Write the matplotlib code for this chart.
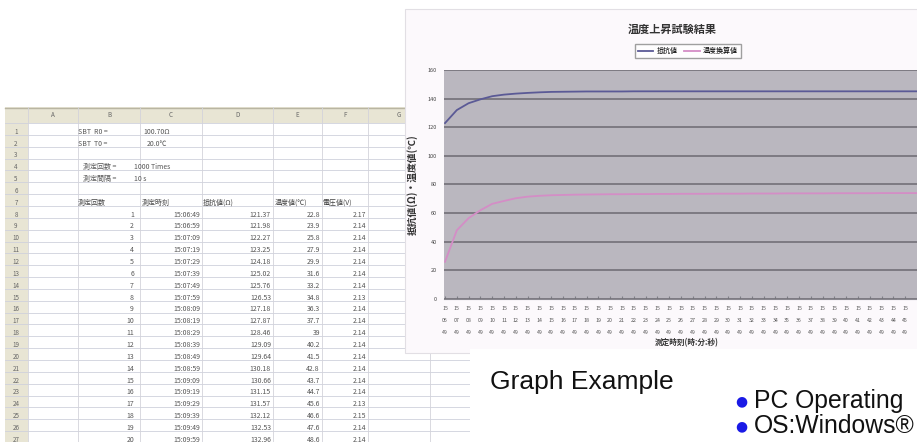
import matplotlib.pyplot as plt
from matplotlib.patches import Rectangle

plt.rcParams['font.family'] = ['Noto Sans CJK JP', 'DejaVu Sans']

# spreadsheet contents
col_letters = ["A", "B", "C", "D", "E", "F", "G"]
col_edges = [28, 78, 140, 202, 273, 322, 368, 430]
meas_no = [str(i) for i in range(1, 21)]
meas_time = ["15:06:49", "15:06:59", "15:07:09", "15:07:19", "15:07:29",
             "15:07:39", "15:07:49", "15:07:59", "15:08:09", "15:08:19",
             "15:08:29", "15:08:39", "15:08:49", "15:08:59", "15:09:09",
             "15:09:19", "15:09:29", "15:09:39", "15:09:49", "15:09:59"]
resist = ["121.37", "121.98", "122.27", "123.25", "124.18", "125.02", "125.76",
          "126.53", "127.18", "127.87", "128.46", "129.09", "129.64", "130.18",
          "130.66", "131.15", "131.57", "132.12", "132.53", "132.96"]
temp = ["22.8", "23.9", "25.8", "27.9", "29.9", "31.6", "33.2", "34.8", "36.3",
        "37.7", "39", "40.2", "41.5", "42.8", "43.7", "44.7", "45.6", "46.6",
        "47.6", "48.6"]
volt = ["2.17", "2.14", "2.14", "2.14", "2.14", "2.14", "2.14", "2.13", "2.14",
        "2.14", "2.14", "2.14", "2.14", "2.14", "2.14", "2.14", "2.13", "2.15",
        "2.14", "2.14"]
headers = ["測定回数", "測定時刻", "抵抗値(Ω)", "温度値(℃)", "電圧値(V)"]

# chart series (one value per x category)
series_names = ["抵抗値", "温度換算値"]
resist_curve = [122.9, 132.0, 136.8, 139.5, 141.7, 142.8, 143.5, 144.0, 144.4,
                144.7, 144.8, 144.9, 145.0, 145.0, 145.0, 145.0, 145.1, 145.1,
                145.1, 145.1, 145.1, 145.1, 145.1, 145.1, 145.1, 145.1, 145.1,
                145.1, 145.1, 145.1, 145.1, 145.1, 145.1, 145.1, 145.1, 145.1,
                145.1, 145.1, 145.1, 145.1, 145.1, 145.1]
temp_curve = [26.0, 48.0, 56.5, 62.0, 66.5, 68.5, 70.4, 71.5, 72.1, 72.5, 72.7,
              72.9, 73.0, 73.1, 73.2, 73.2, 73.3, 73.3, 73.4, 73.4, 73.5, 73.5,
              73.5, 73.6, 73.6, 73.6, 73.7, 73.7, 73.7, 73.8, 73.8, 73.8, 73.8,
              73.9, 73.9, 73.9, 73.9, 74.0, 74.0, 74.0, 74.0, 74.0]
n_labels = 40
x_labels = ["15\n%02d\n49" % (6 + i) for i in range(n_labels)]

fig = plt.figure(figsize=(9.17, 4.42), dpi=100)

# ---- background: spreadsheet screenshot (pixel coords) ----
bg = fig.add_axes([0, 0, 1, 1])
bg.set_xlim(0, 917)
bg.set_ylim(442, 0)
bg.axis('off')
bg.set_zorder(0)

hdr_col = "#e8e5d4"
txt_col = "#555555"
row_h = 11.85
def row_y(r):
    return 131.7 + (r - 1) * row_h

bg.add_patch(Rectangle((5, 107), 912, 335, facecolor="white", edgecolor="none"))
bg.add_patch(Rectangle((5, 107), 912, 16, facecolor=hdr_col, edgecolor="none"))
bg.add_patch(Rectangle((5, 107), 23, 335, facecolor=hdr_col, edgecolor="none"))
bg.plot([5, 917], [107.5, 107.5], color="#b9b5a2", lw=1)
for k in range(28):
    y = 123 + k * row_h
    bg.plot([5, 917], [y, y], color="#cfd1dc", lw=0.6)
for xe in col_edges:
    bg.plot([xe, xe], [107, 442], color="#d3d3da", lw=0.6)
for i, c in enumerate(col_letters):
    bg.text((col_edges[i] + col_edges[i + 1]) / 2, 115, c, fontsize=4.5,
            color="#666666", ha="center", va="center")
for r in range(1, 28):
    bg.text(16, row_y(r), str(r), fontsize=4.5, color="#666666",
            ha="center", va="center")

fs = 5
bg.text(78, row_y(1), "SBT  R0 =", fontsize=fs, color=txt_col, va="center")
bg.text(143, row_y(1), "100.70Ω", fontsize=fs, color=txt_col, va="center")
bg.text(78, row_y(2), "SBT  T0 =", fontsize=fs, color=txt_col, va="center")
bg.text(147, row_y(2), "20.0℃", fontsize=fs, color=txt_col, va="center")
bg.text(83, row_y(4), "測定回数 =", fontsize=fs, color=txt_col, va="center")
bg.text(134, row_y(4), "1000 Times", fontsize=fs, color=txt_col, va="center")
bg.text(83, row_y(5), "測定間隔 =", fontsize=fs, color=txt_col, va="center")
bg.text(134, row_y(5), "10 s", fontsize=fs, color=txt_col, va="center")
for x0, h in zip([78, 142, 203, 275, 322], headers):
    bg.text(x0, row_y(7), h, fontsize=fs, color="#444444", va="center")
for i in range(len(meas_no)):
    y = row_y(8 + i)
    bg.text(134, y, meas_no[i], fontsize=fs, color=txt_col, ha="right", va="center")
    bg.text(200, y, meas_time[i], fontsize=fs, color=txt_col, ha="right", va="center")
    bg.text(271, y, resist[i], fontsize=fs, color=txt_col, ha="right", va="center")
    bg.text(320, y, temp[i], fontsize=fs, color=txt_col, ha="right", va="center")
    bg.text(366, y, volt[i], fontsize=fs, color=txt_col, ha="right", va="center")

# chart panel behind the plot
bg.add_patch(Rectangle((405, 9), 520, 344, facecolor="#fcf9fc", edgecolor="#e2dfe4",
                       lw=0.8, zorder=5))

# ---- chart ----
left, right, top, bottom = 444, 925, 70, 299
ax = fig.add_axes([left / 917, (442 - bottom) / 442, (right - left) / 917,
                   (bottom - top) / 442])
ax.set_zorder(2)
ax.set_facecolor("#bab7bf")
xs = list(range(len(resist_curve)))
ax.plot(xs, resist_curve, color="#5b5a96", lw=1.3, label=series_names[0])
ax.plot(xs, temp_curve, color="#d48dc6", lw=1.3, label=series_names[1])
ax.set_xlim(-0.085, -0.085 + (right - left) / 11.8)
ax.set_ylim(0, 160)
ax.set_yticks(range(0, 161, 20))
ax.yaxis.grid(True, color="#727077", lw=1.2)
ax.set_axisbelow(True)
ax.set_xticks(range(n_labels))
ax.set_xticklabels(x_labels, fontsize=3.8, color="#555555", linespacing=2.7)
ax.tick_params(axis="x", direction="in", length=2, color="#808088", pad=5)
ax.tick_params(axis="y", length=0, labelsize=4, labelcolor="#444444", pad=5)
for s in ["left", "right", "top"]:
    ax.spines[s].set_visible(False)
ax.spines["bottom"].set_color("#8a8890")
ax.set_title("温度上昇試験結果", fontsize=8, fontweight="bold", color="#333333",
             x=(672 - left) / (right - left), pad=27)
ax.set_ylabel("抵抗値(Ω)・温度値(℃)", fontsize=7, fontweight="bold", color="#333333")
ax.yaxis.set_label_coords((418 - left) / (right - left), 0.5)
ax.set_xlabel("測定時刻(時:分:秒)", fontsize=5.5, fontweight="bold", color="#333333",
              va="center")
ax.xaxis.set_label_coords((687 - left) / (right - left), (bottom - 343) / (bottom - top))
ax.legend(loc="center", bbox_to_anchor=((688 - left) / (right - left),
          (bottom - 51) / (bottom - top)), ncol=2, fontsize=5, frameon=True,
          fancybox=False, edgecolor="#888888", handlelength=2.2, borderpad=0.4,
          columnspacing=1.0, handletextpad=0.5)

# ---- overlay: caption box ----
ov = fig.add_axes([0, 0, 1, 1])
ov.set_xlim(0, 917)
ov.set_ylim(442, 0)
ov.axis('off')
ov.set_zorder(3)
ov.patch.set_alpha(0)
ov.add_patch(Rectangle((470, 349), 447, 93, facecolor="white", edgecolor="none"))
ov.text(490, 382, "Graph Example", fontsize=19, family="Liberation Sans",
        color="#111111", va="center")
ov.text(735, 401, "●", fontsize=10, color="#1a1ae6", va="center", ha="left",
        family="DejaVu Sans")
ov.text(754, 401, "PC Operating", fontsize=17.8, family="Liberation Sans",
        color="#111111", va="center")
ov.text(735, 426, "●", fontsize=10, color="#1a1ae6", va="center", ha="left",
        family="DejaVu Sans")
ov.text(754, 426, "OS:Windows®", fontsize=17.8, family="Liberation Sans",
        color="#111111", va="center")

fig.savefig("out.png", dpi=100)
